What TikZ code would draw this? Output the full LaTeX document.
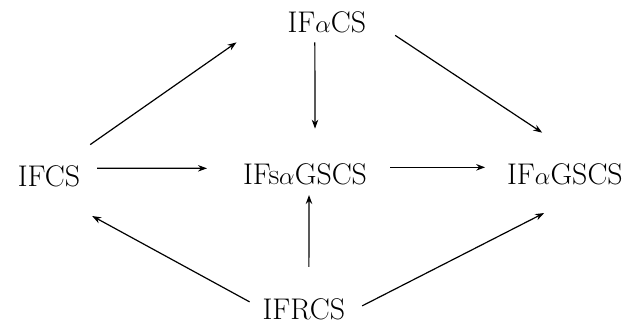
\documentclass[tikz,border=0pt]{standalone}
\usepackage{amsmath}
\usetikzlibrary{arrows.meta}
\tikzset{>={Stealth[length=9bp,width=6.5bp]}}
\tikzset{set/.style={anchor=base,inner sep=0pt,outer sep=0pt,font=\fontsize{30}{36}\selectfont}}
\tikzset{incl/.style={->,line width=1.2bp}}

\begin{document}
\begin{tikzpicture}
\useasboundingbox (0,0) rectangle (22.26,11.46);

\node (ifacs) at (11.53,10.30) [set] {IF$\alpha$CS};
\node (ifcs) at (1.73,4.88) [set] {IFCS};
\node (ifsagscs) at (10.76,4.95) [set] {IFs$\alpha$GSCS};
\node (ifagscs) at (19.93,4.95) [set] {IF$\alpha$GSCS};
\node (ifrcs) at (10.72,0.18) [set] {IFRCS};

\draw [incl] ([xshift=10bp,yshift=21bp]ifcs.north east) -- ([xshift=-51bp,yshift=-9bp]ifacs.south west);
\draw [incl] ([xshift=17bp,yshift=8bp]ifcs.east) -- ([xshift=-36bp,yshift=6bp]ifsagscs.west);
\draw [incl] ([xshift=-12bp,yshift=-9bp]ifacs.south) -- ([xshift=10bp,yshift=35bp]ifsagscs.north);
\draw [incl] ([xshift=29bp,yshift=-2bp]ifacs.south east) -- ([xshift=35bp,yshift=31bp]ifagscs.north west);
\draw [incl] ([xshift=23bp,yshift=7bp]ifsagscs.east) -- ([xshift=-22bp,yshift=7bp]ifagscs.west);
\draw [incl] ([xshift=-13bp,yshift=-3bp]ifrcs.north west) -- ([xshift=12bp,yshift=-29bp]ifcs.south east);
\draw [incl] ([xshift=5bp,yshift=32bp]ifrcs.north) -- ([xshift=4bp,yshift=-10bp]ifsagscs.south);
\draw [incl] ([xshift=17bp,yshift=-7bp]ifrcs.north east) -- ([xshift=37bp,yshift=-28bp]ifagscs.south west);

\end{tikzpicture}
\end{document}
